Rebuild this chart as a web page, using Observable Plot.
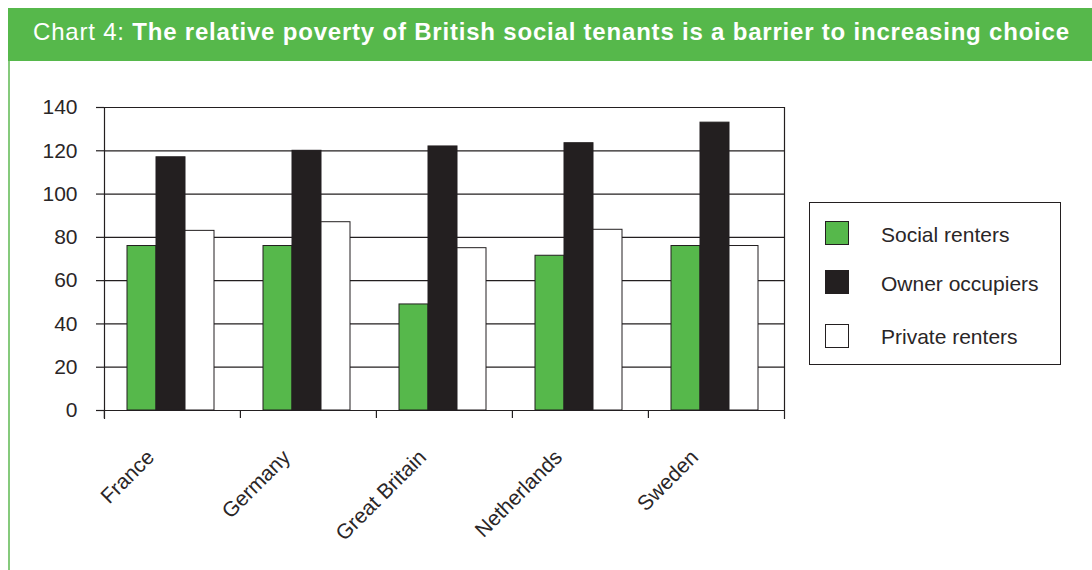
<!DOCTYPE html>
<html><head><meta charset="utf-8">
<script src="https://cdn.jsdelivr.net/npm/d3@7"></script>
<script src="https://cdn.jsdelivr.net/npm/@observablehq/plot@0.6"></script>
<style>
body{margin:0;background:#fff;font-family:"Liberation Sans",Arial,sans-serif;}
#wrap{position:relative;width:1092px;height:570px;overflow:hidden;}
#title{position:absolute;left:8px;top:8px;width:1084px;height:53px;background:#56b84b;color:#fff;font-size:24px;letter-spacing:0.8px;line-height:47px;padding-left:25px;box-sizing:border-box;white-space:nowrap;}
#lline{position:absolute;left:8px;top:61px;width:2px;height:509px;background:#86ca7c;}
#chart{position:absolute;left:0;top:61px;}
#legend{position:absolute;left:809px;top:202px;width:252px;height:163px;border:1px solid #231f20;box-sizing:border-box;}
.sw{position:absolute;left:15px;width:24px;height:24px;border:1px solid #231f20;box-sizing:border-box;}
.lt{position:absolute;left:71px;font-size:21px;line-height:20px;color:#2a2627;white-space:nowrap;}
</style>
</head><body>
<div id="wrap">
  <div id="title">Chart 4: <b>The relative poverty of British social tenants is a barrier to increasing choice</b></div>
  <div id="lline"></div>
  <div id="chart"></div>
  <div id="legend"></div>
</div>
<script>
const countries = ["France", "Germany", "Great Britain", "Netherlands", "Sweden"];
const series = ["Social renters", "Owner occupiers", "Private renters"];
const socialRenters = [76, 76, 49, 71.5, 76];
const ownerOccupiers = [117, 120, 122, 123.5, 133];
const privateRenters = [83, 87, 75, 83.5, 76];
const yTicks = [0, 20, 40, 60, 80, 100, 120, 140];
const colors = ["#56b84b", "#231f20", "#ffffff"];

const values = [socialRenters, ownerOccupiers, privateRenters];
const rows = [];
countries.forEach((c, i) => series.forEach((s, j) => rows.push({country: c, series: s, value: values[j][i]})));

const W = 1092, H = 509, ML = 103, MR = 308, MT = 46, MB = 160;
const bw = (W - ML - MR) / countries.length;
const ink = "#231f20";
const txt = "#2a2627";

const chart = Plot.plot({
  width: W, height: H,
  marginLeft: ML, marginRight: MR, marginTop: MT, marginBottom: MB,
  style: {fontFamily: "'Liberation Sans', Arial, sans-serif", fontSize: "21px", color: ink, background: "transparent"},
  fx: {domain: countries, padding: 0, axis: null, label: null},
  x: {domain: series, paddingInner: 0, paddingOuter: 0.82, align: 0.46, axis: null},
  y: {domain: [0, 140], axis: null, label: null},
  color: {domain: series, range: colors},
  marks: [
    Plot.ruleY(yTicks, {y: d => d, stroke: ink, strokeWidth: 1.2}),
    Plot.barY(rows, {fx: "country", x: "series", y: "value", fill: "series", stroke: ink, strokeWidth: 1}),
    Plot.axisY({ticks: yTicks, label: null, tickSize: 8, tickPadding: 19, stroke: ink, strokeWidth: 1.2, fill: txt, fontSize: 21}),
    Plot.frame({anchor: "left", insetBottom: -8, stroke: ink, strokeWidth: 1.2, facetAnchor: "left"}),
    Plot.frame({anchor: "right", insetBottom: -8, stroke: ink, strokeWidth: 1.2, facetAnchor: "right"}),
    Plot.axisFx({anchor: "bottom", label: null, tickSize: 8, tickFormat: () => "", dx: -bw / 2, stroke: ink, strokeWidth: 1.2}),
    Plot.text(countries, {fx: d => d, text: d => d, frameAnchor: "bottom", rotate: -45, textAnchor: "end", dx: -17, dy: 48, fill: txt, fontSize: 21})
  ]
});
document.getElementById("chart").appendChild(chart);

const legend = document.getElementById("legend");
const swTops = [18, 67, 121], txTops = [22, 71, 124];
series.forEach((s, i) => {
  const sw = document.createElement("div");
  sw.className = "sw"; sw.style.top = swTops[i] + "px"; sw.style.background = colors[i];
  legend.appendChild(sw);
  const t = document.createElement("div");
  t.className = "lt"; t.style.top = txTops[i] + "px"; t.textContent = s;
  legend.appendChild(t);
});
</script>
</body></html>
